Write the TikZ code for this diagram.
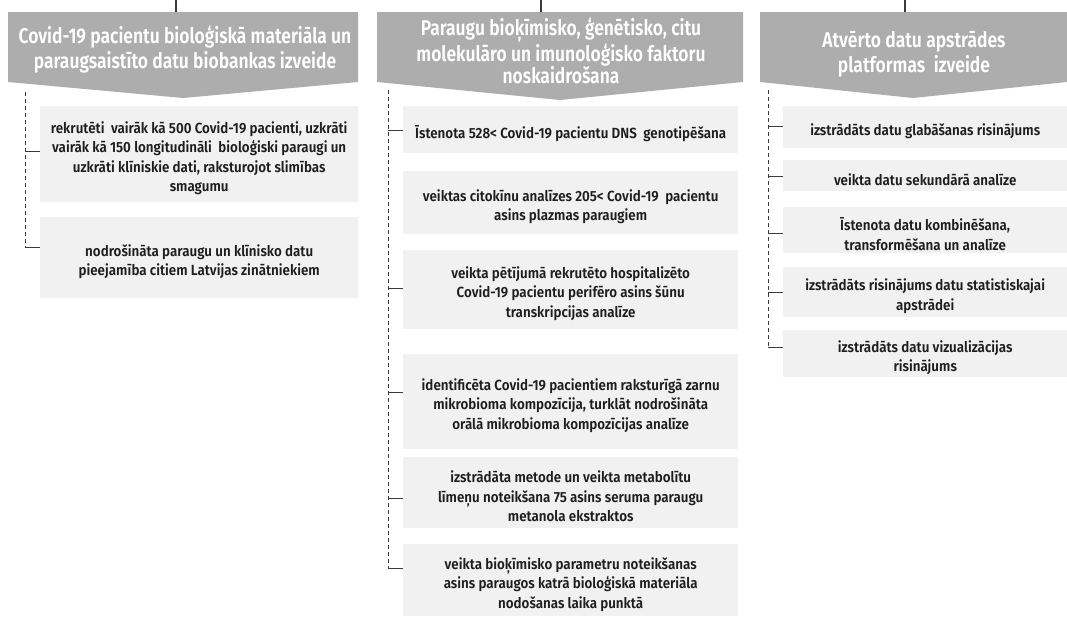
\documentclass[tikz,border=0pt]{standalone}
\usepackage{fontspec}
\newcommand\mysetupfonts[2]{\setmainfont[FakeStretch=0.82,#2]{#1}\newfontfamily\bodyfont[FakeStretch=0.91,#2]{#1}}
\IfFontExistsTF{Fira Sans SemiBold}{\mysetupfonts{Fira Sans SemiBold}{}}{%
 \IfFontExistsTF{Fira Sans Medium}{\mysetupfonts{Fira Sans Medium}{FakeBold=0.4}}{\mysetupfonts{Fira Sans}{FakeBold=0.8}}}
\definecolor{hdrgray}{HTML}{ADADAD}
\definecolor{boxgray}{HTML}{F1F1F1}
\definecolor{txt}{HTML}{1E1E1E}
\definecolor{linegray}{HTML}{3A3A3A}
\newcommand\itembox[5]{\node[item,minimum width=#3,minimum height=#4,label={[itext]center:{#5}}] (#1) at (#2) {};}
\begin{document}
\begin{tikzpicture}[x=1pt,y=-1pt,
  hdr/.style={fill=hdrgray,draw=none},
  htext/.style={text=white,font=\fontsize{21.3}{25}\selectfont,align=center,inner sep=0pt},
  item/.style={fill=boxgray,draw=none,anchor=north west,inner sep=0pt},
  itext/.style={text=txt,font=\bodyfont\fontsize{14.7}{19.5}\selectfont,align=center,inner sep=0pt,yshift=-4pt},
  vline/.style={draw=linegray,line width=1.1pt},
  dline/.style={draw=linegray,line width=0.8pt,dash pattern=on 4pt off 3pt},
  tick/.style={draw=linegray,line width=0.9pt}]
\useasboundingbox (0,0) rectangle (1067,616);

% headers
\path[hdr] (8,12) -- (358,12) -- (358,82) -- (183,98) -- (8,82) -- cycle;
\path[hdr] (377,12) -- (743,12) -- (743,82) -- (560,100) -- (377,82) -- cycle;
\path[hdr] (760,12) -- (1067,12) -- (1067,82) -- (913,98) -- (760,82) -- cycle;

\node[htext] (h1) at (185,50) {Covid-19 pacientu bioloģiskā materiāla un\\paraugsaistīto datu biobankas izveide};
\node[htext,font=\fontsize{21.3}{22}\selectfont] (h2) at (561,51) {Paraugu bioķīmisko, ģenētisko, citu\\molekulāro un imunoloģisko faktoru\\noskaidrošana};
\node[htext] (h3) at (914,54) {Atvērto datu apstrādes\\platformas\ \ izveide};

\coordinate (t1) at (176,0); \coordinate (t1b) at (176,12);
\coordinate (t2) at (541,0); \coordinate (t2b) at (541,12);
\coordinate (t3) at (905,0); \coordinate (t3b) at (905,12);
\draw[vline] (t1) -- (t1b);
\draw[vline] (t2) -- (t2b);
\draw[vline] (t3) -- (t3b);

% column 1
\itembox{a1}{40,106}{318pt}{96pt}{rekrutēti\ \ vairāk kā 500 Covid-19 pacienti, uzkrāti\\vairāk kā 150 longitudināli\ \ bioloģiski paraugi un\\uzkrāti klīniskie dati, raksturojot slimības\\smagumu}
\itembox{a2}{40,217}{318pt}{81pt}{nodrošināta paraugu un klīnisko datu\\pieejamība citiem Latvijas zinātniekiem}

% column 2
\itembox{b1}{403,106}{335pt}{47pt}{Īstenota 528< Covid-19 pacientu DNS\ \ genotipēšana}
\itembox{b2}{403,171}{335pt}{63pt}{veiktas citokīnu analīzes 205< Covid-19\ \ pacientu\\asins plazmas paraugiem}
\itembox{b3}{403,250}{335pt}{79pt}{veikta pētījumā rekrutēto hospitalizēto\\Covid-19 pacientu perifēro asins šūnu\\transkripcijas analīze}
\itembox{b4}{403,354}{335pt}{95pt}{identificēta Covid-19 pacientiem raksturīgā zarnu\\mikrobioma kompozīcija, turklāt nodrošināta\\orālā mikrobioma kompozīcijas analīze}
\itembox{b5}{403,457}{335pt}{71pt}{izstrādāta metode un veikta metabolītu\\līmeņu noteikšana 75 asins seruma paraugu\\metanola ekstraktos}
\itembox{b6}{403,544}{335pt}{72pt}{veikta bioķīmisko parametru noteikšanas\\asins paraugos katrā bioloģiskā materiāla\\nodošanas laika punktā}

% column 3
\itembox{c1}{783,106}{284pt}{42pt}{izstrādāts datu glabāšanas risinājums}
\itembox{c2}{783,160}{284pt}{31pt}{veikta datu sekundārā analīze}
\itembox{c3}{783,207}{284pt}{46pt}{Īstenota datu kombinēšana,\\transformēšana un analīze}
\itembox{c4}{783,267}{284pt}{50pt}{izstrādāts risinājums datu statistiskajai\\apstrādei}
\itembox{c5}{783,330}{284pt}{47pt}{izstrādāts datu vizualizācijas\\risinājums}

% dashed spines
\coordinate (s1) at (25,92);   \coordinate (k11) at (25,151); \coordinate (k12) at (25,247);
\coordinate (s2) at (388,90);  \coordinate (k21) at (388,130); \coordinate (k22) at (388,288);
\coordinate (k23) at (388,392); \coordinate (k24) at (388,498); \coordinate (k25) at (388,568);
\coordinate (s3) at (768,90);  \coordinate (k31) at (768,126); \coordinate (k32) at (768,176);
\coordinate (k33) at (768,233); \coordinate (k34) at (768,292); \coordinate (k35) at (768,347);

\draw[dline] (s1) -- (k12);
\draw[dline] (s2) -- (k25);
\draw[dline] (s3) -- (k35);

\draw[tick] (k11) -- (k11 -| a1.west);
\draw[tick] (k12) -- (k12 -| a2.west);
\draw[tick] (k21) -- (k21 -| b1.west);
\draw[tick] (k22) -- (k22 -| b3.west);
\draw[tick] (k23) -- (k23 -| b4.west);
\draw[tick] (k24) -- (k24 -| b5.west);
\draw[tick] (k25) -- (k25 -| b6.west);
\draw[tick] (k31) -- (k31 -| c1.west);
\draw[tick] (k32) -- (k32 -| c2.west);
\draw[tick] (k33) -- (k33 -| c3.west);
\draw[tick] (k34) -- (k34 -| c4.west);
\draw[tick] (k35) -- (k35 -| c5.west);
\end{tikzpicture}
\end{document}
